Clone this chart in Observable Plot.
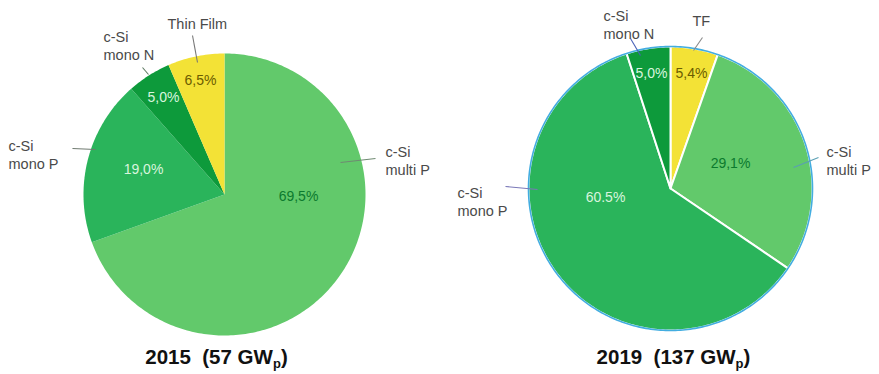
<!DOCTYPE html>
<html>
<head>
<meta charset="utf-8">
<script src="https://cdn.jsdelivr.net/npm/d3@7"></script>
<script src="https://cdn.jsdelivr.net/npm/@observablehq/plot@0.6"></script>
<style>
  html, body { margin: 0; padding: 0; background: #fff; }
  svg text { white-space: pre; }
</style>
</head>
<body>
<div id="chart"></div>
<script>
// ---- data ----
const years = [2015, 2019];
const capacityGW = [57, 137];

const categories2015 = ["c-Si multi P", "c-Si mono P", "c-Si mono N", "Thin Film"];
const shares2015 = [69.5, 19.0, 5.0, 6.5];
const names2015 = ["c-Si\nmulti P", "c-Si\nmono P", "c-Si\nmono N", "Thin Film"];
const pctText2015 = ["69,5%", "19,0%", "5,0%", "6,5%"];

const categories2019 = ["Thin Film", "c-Si multi P", "c-Si mono P", "c-Si mono N"];
const shares2019 = [5.4, 29.1, 60.5, 5.0];
const names2019 = ["TF", "c-Si\nmulti P", "c-Si\nmono P", "c-Si\nmono N"];
const pctText2019 = ["5,4%", "29,1%", "60.5%", "5,0%"];

// ---- styles / layout ----
const colors = {
  "c-Si multi P": "#62c96b",
  "c-Si mono P": "#2ab45b",
  "c-Si mono N": "#0d9a3b",
  "Thin Film": "#f3e236"
};
const pctColors = {
  "c-Si multi P": "#0b7a2e",
  "c-Si mono P": "#d9f5de",
  "c-Si mono N": "#d9f5de",
  "Thin Film": "#6b5c00"
};
const W = 879, H = 374;
const FONT = "'Liberation Sans', Arial, sans-serif";

// pie geometry + label placement (offsets relative to pie centre, px)
const layout = [
  {
    cx: 224, cy: 194, r: 141, sep: null, outline: null,
    pct: [[74, 2], [-81, -25], [-61, -97], [-24, -114]],
    name: [[161, -34], [-216, -40], [-121, -149], [-57, -171]],
    lead: [[151, -36, 116, -32], [-152, -46, -129, -45], [-82, -127, -76, -120], [-32, -159, -27, -132]],
    leadColor: ["#6f8a72", "#6f7a70", "#5f7a62", "#777"],
    titleX: 216
  },
  {
    cx: 670, cy: 188, r: 142, sep: "#ffffff", outline: "#43ade0",
    pct: [[21, -115], [60, -25], [-65, 9], [-19, -115]],
    name: [[22, -168], [156, -28], [-213, 13], [-67, -164]],
    lead: [[32, -151, 23, -138], [148, -31, 123, -21], [-165, -2, -133, 1], [-40, -150, -30, -133]],
    leadColor: ["#8a8a8a", "#5a9fb4", "#7a78b8", "#4a62b8"],
    titleX: 673
  }
];

const datasets = [
  {cats: categories2015, vals: shares2015, names: names2015, pct: pctText2015},
  {cats: categories2019, vals: shares2019, names: names2019, pct: pctText2019}
];

// ---- build marks ----
const marks = [];
const pctRows = [], nameRows = [], leadRows = [], titleRows = [];

datasets.forEach((ds, p) => {
  const L = layout[p];
  const total = d3.sum(ds.vals);
  let acc = 0;
  ds.vals.forEach((v, i) => {
    const a0 = acc / total * 2 * Math.PI;
    acc += v;
    const a1 = acc / total * 2 * Math.PI;
    const n = Math.max(2, Math.ceil((a1 - a0) / (Math.PI / 180)));
    const pts = [{x: L.cx, y: L.cy}];
    for (let k = 0; k <= n; k++) {
      const a = a0 + (a1 - a0) * k / n;
      pts.push({x: L.cx + L.r * Math.sin(a), y: L.cy - L.r * Math.cos(a)});
    }
    pts.push({x: L.cx, y: L.cy});
    marks.push(Plot.line(pts, {
      x: "x", y: "y",
      fill: colors[ds.cats[i]],
      stroke: L.sep || "none",
      strokeWidth: L.sep ? 2 : 0,
      strokeLinejoin: "round"
    }));
    pctRows.push({x: L.cx + L.pct[i][0], y: L.cy + L.pct[i][1], text: ds.pct[i], color: pctColors[ds.cats[i]]});
    nameRows.push({x: L.cx + L.name[i][0], y: L.cy + L.name[i][1], text: ds.names[i]});
    leadRows.push({x1: L.cx + L.lead[i][0], y1: L.cy + L.lead[i][1], x2: L.cx + L.lead[i][2], y2: L.cy + L.lead[i][3], color: L.leadColor[i]});
  });
  if (L.outline) {
    const circ = d3.range(0, 361).map(d => ({x: L.cx + L.r * Math.sin(d * Math.PI / 180), y: L.cy - L.r * Math.cos(d * Math.PI / 180)}));
    marks.push(Plot.line(circ, {x: "x", y: "y", stroke: L.outline, strokeWidth: 1.6}));
  }
  titleRows.push({x: L.titleX, y: 357, text: `${years[p]}  (${capacityGW[p]} GWp)`});
});

marks.push(Plot.link(leadRows, {x1: "x1", y1: "y1", x2: "x2", y2: "y2", stroke: "color", strokeWidth: 1.1}));
marks.push(Plot.text(pctRows, {x: "x", y: "y", text: "text", fill: "color", fontSize: 14, textAnchor: "middle"}));
marks.push(Plot.text(nameRows, {x: "x", y: "y", text: "text", fill: "#4a4a4a", fontSize: 14.5, textAnchor: "start", lineAnchor: "middle", lineHeight: 1.2}));
marks.push(Plot.text(titleRows, {x: "x", y: "y", text: "text", fill: "#111", fontSize: 20.5, fontWeight: "bold", textAnchor: "middle"}));

const chart = Plot.plot({
  width: W, height: H,
  margin: 0,
  x: {domain: [0, W], range: [0, W], axis: null},
  y: {domain: [0, H], range: [0, H], axis: null},
  color: {type: "identity"},
  style: {fontFamily: FONT, background: "#fff", overflow: "visible"},
  marks
});

// subscript "p" in the titles
d3.select(chart).selectAll("text").each(function () {
  const t = d3.select(this);
  const s = t.text();
  const m = s.match(/^(.*GW)p\)$/);
  if (m && this.childElementCount === 0) {
    t.text(null);
    t.append("tspan").text(m[1]);
    t.append("tspan").attr("dy", 4).attr("font-size", 13).text("p");
    t.append("tspan").attr("dy", -4).text(")");
  }
});

document.getElementById("chart").appendChild(chart);
</script>
</body>
</html>
